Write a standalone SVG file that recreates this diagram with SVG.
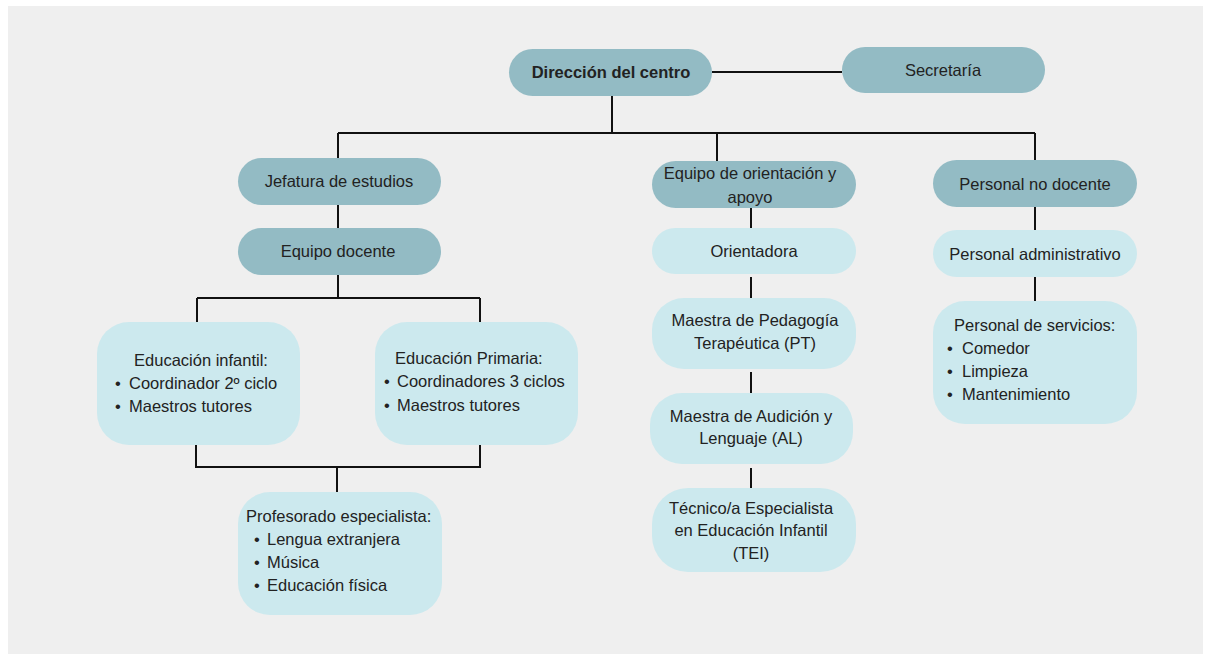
<svg xmlns="http://www.w3.org/2000/svg" width="1210" height="663" viewBox="0 0 1210 663">
<style>
.dark{fill:#93bbc4}
.light{fill:#cce9ee}
text{font-family:"Liberation Sans",Arial,sans-serif;font-size:16.5px;fill:#222}
.c{text-anchor:middle}
.b{font-weight:bold}
.conn{stroke:#111;stroke-width:2;fill:none}
</style>
<rect x="0" y="0" width="1210" height="663" fill="#ffffff"/>
<rect x="8" y="6" width="1195" height="648" fill="#efefef"/>
<g id="connectors" class="conn">
<path d="M712 72H842"/>
<path d="M612 96V133M338 133H1035M338 133V158M717 133V161M1035 133V160"/>
<path d="M338 205V228"/>
<path d="M338 275V298M197 298H480M197 298V322M480 298V322"/>
<path d="M196 445V467H480V445M337 467V492"/>
<path d="M751 208V228M751 277V300M751 372V395M751 468V488"/>
<path d="M1035 207V230M1035 277V301"/>
</g>
<g id="direccion"><rect class="dark" x="509" y="49" width="203" height="47" rx="23.5"/><text class="c b" x="611" y="78">Dirección del centro</text></g>
<g id="secretaria"><rect class="dark" x="842" y="47" width="203" height="46" rx="23"/><text class="c" x="943" y="76">Secretaría</text></g>
<g id="jefatura"><rect class="dark" x="238" y="158" width="203" height="47" rx="23.5"/><text class="c" x="339" y="187">Jefatura de estudios</text></g>
<g id="equipo-docente"><rect class="dark" x="238" y="228" width="203" height="47" rx="23.5"/><text class="c" x="338" y="257">Equipo docente</text></g>
<g id="ed-infantil"><rect class="light" x="97" y="322" width="203" height="123" rx="32"/>
<text class="c" x="201" y="366">Educación infantil:</text>
<text x="115" y="389">•<tspan x="129">Coordinador 2º ciclo</tspan></text>
<text x="115" y="412">•<tspan x="129">Maestros tutores</tspan></text></g>
<g id="ed-primaria"><rect class="light" x="375" y="322" width="203" height="123" rx="32"/>
<text x="395" y="364">Educación Primaria:</text>
<text x="384" y="387">•<tspan x="397">Coordinadores 3 ciclos</tspan></text>
<text x="384" y="411">•<tspan x="397">Maestros tutores</tspan></text></g>
<g id="profesorado"><rect class="light" x="238" y="492" width="204" height="123" rx="32"/>
<text x="246" y="522">Profesorado especialista:</text>
<text x="254" y="545">•<tspan x="267">Lengua extranjera</tspan></text>
<text x="254" y="568">•<tspan x="267">Música</tspan></text>
<text x="254" y="591">•<tspan x="267">Educación física</tspan></text></g>
<g id="orientacion"><rect class="dark" x="652" y="161" width="204" height="47" rx="23.5"/>
<text class="c" x="750" y="179">Equipo de orientación y</text>
<text class="c" x="750" y="203">apoyo</text></g>
<g id="orientadora"><rect class="light" x="652" y="228" width="204" height="46" rx="23"/><text class="c" x="754" y="257">Orientadora</text></g>
<g id="pt"><rect class="light" x="652" y="298" width="204" height="71" rx="32"/>
<text class="c" x="755" y="326">Maestra de Pedagogía</text>
<text class="c" x="755" y="349">Terapéutica (PT)</text></g>
<g id="al"><rect class="light" x="650" y="393" width="203" height="71" rx="32"/>
<text class="c" x="751" y="422">Maestra de Audición y</text>
<text class="c" x="751" y="444">Lenguaje (AL)</text></g>
<g id="tei"><rect class="light" x="652" y="488" width="204" height="84" rx="36"/>
<text class="c" x="751" y="514">Técnico/a Especialista</text>
<text class="c" x="751" y="536">en Educación Infantil</text>
<text class="c" x="751" y="559">(TEI)</text></g>
<g id="no-docente"><rect class="dark" x="933" y="160" width="204" height="47" rx="23.5"/><text class="c" x="1035" y="190">Personal no docente</text></g>
<g id="administrativo"><rect class="light" x="933" y="230" width="204" height="47" rx="23.5"/><text class="c" x="1035" y="260">Personal administrativo</text></g>
<g id="servicios"><rect class="light" x="933" y="301" width="204" height="123" rx="32"/>
<text x="954" y="331">Personal de servicios:</text>
<text x="947" y="354">•<tspan x="962">Comedor</tspan></text>
<text x="947" y="377">•<tspan x="962">Limpieza</tspan></text>
<text x="947" y="400">•<tspan x="962">Mantenimiento</tspan></text></g>
</svg>
